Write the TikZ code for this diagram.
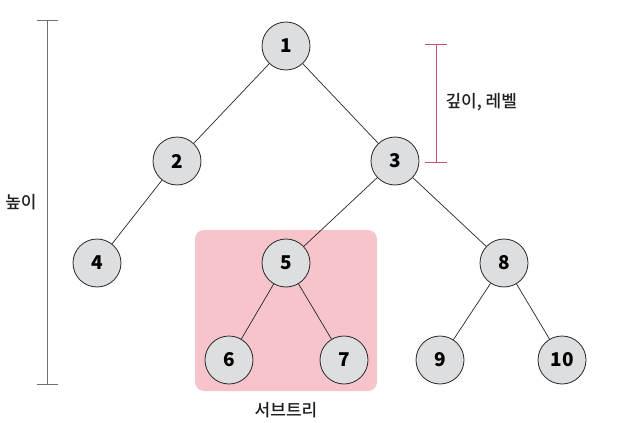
\documentclass[tikz,border=0pt]{standalone}
\usepackage{fontspec}
\setmainfont{Noto Sans CJK KR}
\newfontfamily\medfont{Noto Sans CJK KR Medium}
\definecolor{nodefill}{HTML}{DDDEE0}
\definecolor{subpink}{HTML}{F7C4CC}
\definecolor{barred}{HTML}{C8506A}
\definecolor{bargray}{HTML}{707070}
\begin{document}
\begin{tikzpicture}[x=1pt,y=-1pt,
  tnode/.style={circle,draw=black!85,line width=0.8pt,fill=nodefill,minimum size=48pt,inner sep=0pt,font=\fontsize{19}{19}\selectfont\itshape\bfseries},
  edge/.style={draw=black!85,line width=0.7pt},
  lbl/.style={font=\medfont\fontsize{17}{17}\selectfont,text=black!88}]
\useasboundingbox (0,0) rectangle (638,423);
\fill[subpink,rounded corners=9pt] (195,230) rectangle (377,391);
\node[tnode] (n1) at (286,46) {1};
\node[tnode] (n2) at (177,161) {2};
\node[tnode] (n3) at (395,161) {3};
\node[tnode] (n4) at (97,263) {4};
\node[tnode] (n5) at (286,263) {5};
\node[tnode] (n8) at (504,263) {8};
\node[tnode] (n6) at (229,360) {6};
\node[tnode] (n7) at (344,360) {7};
\node[tnode] (n9) at (440,360) {9};
\node[tnode] (n10) at (562,360) {10};
\foreach \a/\b in {n1/n2,n1/n3,n2/n4,n3/n5,n3/n8,n5/n6,n5/n7,n8/n9,n8/n10}
  \draw[edge] (\a) -- (\b);
% height bar
\coordinate (ht) at (47,20);
\coordinate (hb) at (47,384);
\draw[bargray,line width=0.6pt] (ht) -- (hb);
\draw[bargray,line width=0.6pt] (37,20) -- (58,20);
\draw[bargray,line width=0.6pt] (37,384) -- (58,384);
\node[lbl] (hlabel) at (21,202) {높이};
% depth bar
\coordinate (dt) at (436,44);
\coordinate (db) at (436,162);
\draw[barred,line width=0.7pt] (dt) -- (db);
\draw[barred,line width=0.7pt] (425,44) -- (447,44);
\draw[barred,line width=0.7pt] (425,162) -- (447,162);
\node[lbl,anchor=west] (dlabel) at (442,102) {깊이, 레벨};
\node[lbl] (slabel) at (286,410) {서브트리};
\end{tikzpicture}
\end{document}
